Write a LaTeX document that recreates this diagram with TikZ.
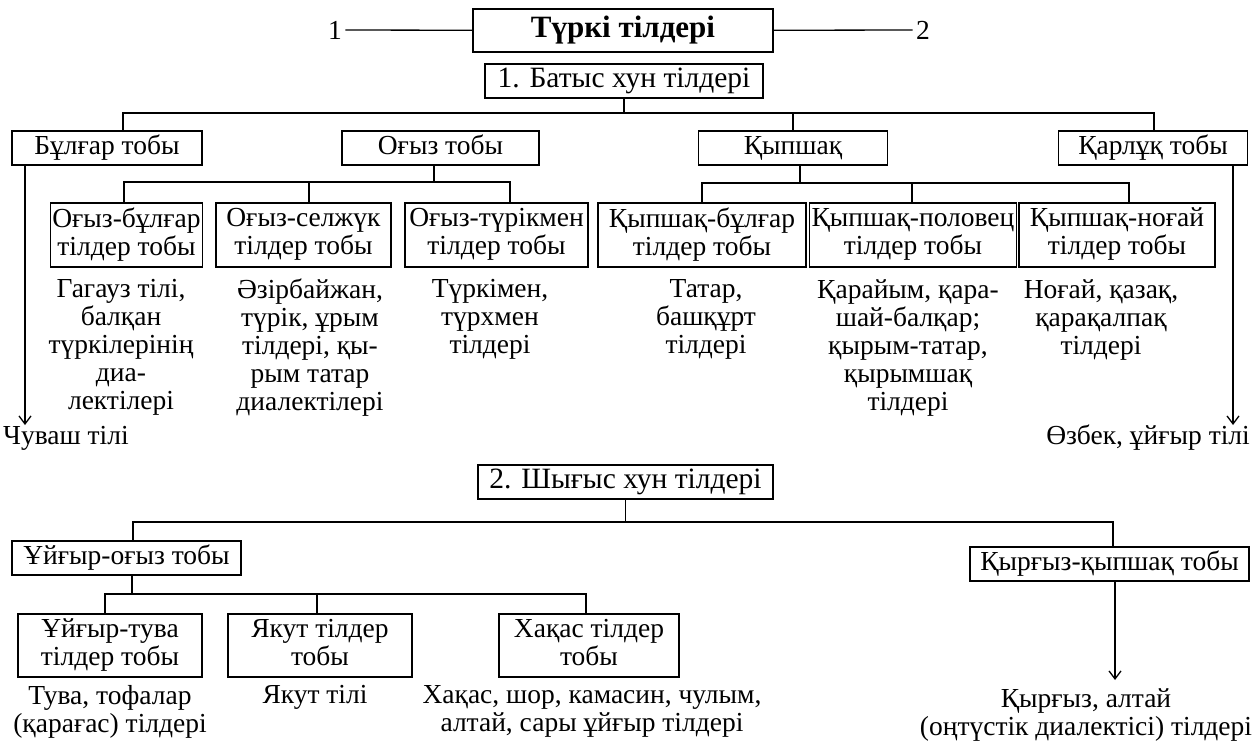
\documentclass[tikz,border=0pt]{standalone}
\usepackage{fontspec}
\setmainfont{Liberation Serif}
\usetikzlibrary{arrows.meta}
\newcommand\bxstrut{\vrule width 0pt height 19pt depth 7pt}
\begin{document}
\begin{tikzpicture}[x=1pt,y=-1pt,
  every node/.style={font=\fontsize{27.5}{28}\selectfont},
  box/.style={draw, line width=1.3pt, inner sep=2pt, align=center,
    execute at begin node=\bxstrut, execute at end node=\bxstrut},
  head/.style={box, font=\fontsize{29.5}{30}\selectfont},
  ln/.style={line width=1.3pt},
  arr/.style={line width=1.3pt, -{Straight Barb[length=8pt,width=12pt,line width=1.3pt]}},
  desc/.style={anchor=north, inner sep=0pt, align=center}]
\useasboundingbox (0,0) rectangle (1252,742);
\fill[white] (0,0) rectangle (1252,742);

% top
\node[box, minimum width=300pt, minimum height=43pt, font=\fontsize{31}{32}\selectfont\bfseries] (root) at (623,30.5) {Түркі тілдері};
\node (one) at (335,30) {1};
\node (two) at (923,30) {2};
\draw[ln] (one) -- (root);
\draw[ln] (root) -- (two);

\node[head, minimum width=278pt, minimum height=34pt] (west) at (624,81) {1. Батыс хун тілдері};

\coordinate (busL) at (123,113);
\coordinate (busR) at (1154,113);
\node[box, minimum width=190pt, minimum height=34pt] (bulgar) at (107,148) {Бұлғар тобы};
\node[box, minimum width=197pt, minimum height=34pt] (oguz) at (440.5,148) {Оғыз тобы};
\node[box, minimum width=189pt, minimum height=34pt] (kyp) at (793,148) {Қыпшақ};
\node[box, minimum width=189pt, minimum height=34pt] (karluk) at (1153,148) {Қарлұқ тобы};
\draw[ln] (west.south) -- (west.south |- busL);
\draw[ln] (busL |- bulgar.north) -- (busL) -- (busR) -- (busR |- karluk.north);
\draw[ln] (kyp.north) -- (kyp.north |- busL);

% Oguz subtree
\coordinate (obU) at (434,182);
\coordinate (obL) at (124,182);
\coordinate (obM) at (309,182);
\coordinate (obR) at (510,182);
\node[box, minimum width=151pt, minimum height=64pt] (ob) at (126.5,235) {Оғыз-бұлғар\\тілдер тобы};
\node[box, minimum width=175pt, minimum height=64pt] (os) at (303.5,235) {Оғыз-селжүк\\тілдер тобы};
\node[box, minimum width=183pt, minimum height=64pt] (ot) at (496.5,235) {Оғыз-түрікмен\\тілдер тобы};
\draw[ln] (obU |- oguz.south) -- (obU);
\draw[ln] (obL |- ob.north) -- (obL) -- (obR) -- (obR |- ot.north);
\draw[ln] (obM) -- (obM |- os.north);

% Kypshak subtree
\coordinate (kbU) at (800,183);
\coordinate (kbL) at (702,183);
\coordinate (kbM) at (912,183);
\coordinate (kbR) at (1129,183);
\node[box, minimum width=208pt, minimum height=64pt] (kb) at (702,235) {Қыпшақ-бұлғар\\тілдер тобы};
\node[box, minimum width=200pt, minimum height=64pt] (kp) at (913,235) {Қыпшақ-половец\\тілдер тобы};
\node[box, minimum width=196pt, minimum height=64pt] (kn) at (1117,235) {Қыпшақ-ноғай\\тілдер тобы};
\draw[ln] (kbU |- kyp.south) -- (kbU);
\draw[ln] (kbL |- kb.north) -- (kbL) -- (kbR) -- (kbR |- kn.north);
\draw[ln] (kbM) -- (kbM |- kp.north);

% descriptions
\node[desc] (obd) at (121,279) {Гагауз тілі,\\балқан\\түркілерінің\\диа-\\лектілері};
\node[desc] (osd) at (310,279) {Әзірбайжан,\\түрік, ұрым\\тілдері, қы-\\рым татар\\диалектілері};
\node[desc] (otd) at (490,279) {Түркімен,\\түрхмен\\тілдері};
\node[desc] (kbd) at (706,279) {Татар,\\башқұрт\\тілдері};
\node[desc] (kpd) at (908,279) {Қарайым, қара-\\шай-балқар;\\қырым-татар,\\қырымшақ\\тілдері};
\node[desc] (knd) at (1101,279) {Ноғай, қазақ,\\қарақалпақ\\тілдері};

% side arrows
\node[anchor=west, inner sep=0pt] (chuv) at (3,438) {Чуваш тілі};
\coordinate (chtip) at (25,425);
\draw[arr] (bulgar.south -| chtip) -- (chtip);
\node[anchor=east, inner sep=0pt] (uzb) at (1250,438) {Өзбек, ұйғыр тілі};
\coordinate (uztip) at (1233,425);
\draw[arr] (karluk.south -| uztip) -- (uztip);

% east branch
\node[head, minimum width=295pt, minimum height=34pt] (east) at (625.5,482) {2. Шығыс хун тілдері};
\coordinate (ebL) at (133,522);
\coordinate (ebR) at (1113,522);
\draw[ln] (east.south) -- (east.south |- ebL);
\node[box, minimum width=229pt, minimum height=34pt] (uo) at (126.5,558) {Ұйғыр-оғыз тобы};
\node[box, minimum width=279pt, minimum height=34pt] (kk) at (1109.5,564) {Қырғыз-қыпшақ тобы};
\draw[ln] (ebL |- uo.north) -- (ebL) -- (ebR) -- (ebR |- kk.north);

\coordinate (uoU) at (132,594);
\coordinate (uoL) at (105,594);
\coordinate (uoM) at (317,594);
\coordinate (uoR) at (586,594);
\node[box, minimum width=184pt, minimum height=63pt] (ut) at (110,645.5) {Ұйғыр-тува\\тілдер тобы};
\node[box, minimum width=184pt, minimum height=63pt] (ya) at (320,645.5) {Якут тілдер\\тобы};
\node[box, minimum width=180pt, minimum height=63pt] (xa) at (589,645.5) {Хақас тілдер\\тобы};
\draw[ln] (uoU |- uo.south) -- (uoU);
\draw[ln] (uoL |- ut.north) -- (uoL) -- (uoR) -- (uoR |- xa.north);
\draw[ln] (uoM) -- (uoM |- ya.north);

\node[desc] (utd) at (110,685) {Тува, тофалар\\(қарағас) тілдері};
\node[desc] (yad) at (315,685) {Якут тілі};
\node[desc] (xad) at (592,685) {Хақас, шор, камасин, чулым,\\алтай, сары ұйғыр тілдері};
\coordinate (kktip) at (1115,680);
\draw[arr] (kk.south -| kktip) -- (kktip);
\node[desc] (kkd) at (1086,688) {Қырғыз, алтай\\(оңтүстік диалектісі) тілдері};
\end{tikzpicture}
\end{document}
